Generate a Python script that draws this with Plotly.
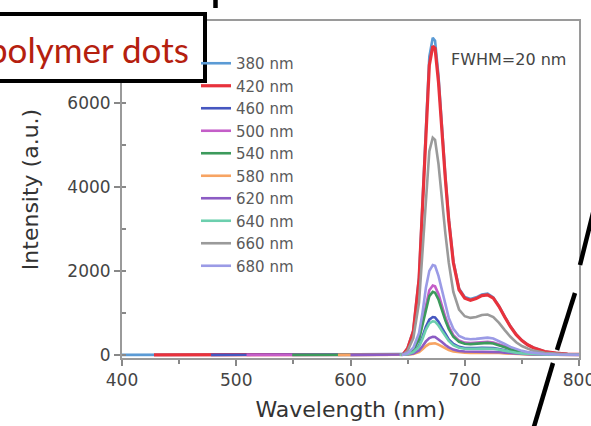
import plotly.graph_objects as go

# ---------------- data ----------------
series_names = ["380 nm", "420 nm", "460 nm", "500 nm", "540 nm",
                "580 nm", "620 nm", "640 nm", "660 nm", "680 nm"]
series_colors = ["#5b9bd5", "#e8323c", "#4657c0", "#c45ec8", "#3c9a5c",
                 "#f7a463", "#8c5cc4", "#6ccfae", "#9a9a9a", "#9b9be6"]
# wavelength where each recorded spectrum begins (flat zero until emission)
series_start = [400, 428, 478, 509, 549, 589, 600, 643, 644, 645]

wl = [646, 650, 655, 660, 663, 666, 669, 672, 674, 677, 680, 683, 686, 690,
      695, 700, 705, 710, 715, 720, 725, 730, 735, 740, 745, 750, 755, 760,
      770, 780, 790, 800]

i380 = [10, 160, 580, 1850, 3600, 5650, 7100, 7550, 7480, 6650, 5400, 4250, 3250, 2230,
        1580, 1380, 1330, 1370, 1440, 1460, 1370, 1160, 910, 680, 490, 345, 245, 175,
        82, 40, 20, 10]
i420 = [10, 150, 560, 1800, 3500, 5500, 6900, 7350, 7300, 6500, 5300, 4200, 3200, 2200,
        1550, 1350, 1300, 1340, 1410, 1430, 1350, 1150, 900, 670, 480, 340, 240, 170,
        80, 40, 20, 10]
i460 = [1, 17, 72, 220, 430, 670, 840, 900, 890, 790, 640, 490, 370, 260,
        190, 160, 155, 160, 170, 172, 162, 138, 108, 80, 56, 39, 27, 19,
        9, 4, 2, 1]
i500 = [2, 30, 130, 400, 780, 1230, 1540, 1650, 1630, 1450, 1170, 900, 680, 470,
        340, 290, 280, 290, 305, 310, 295, 250, 195, 145, 100, 70, 50, 35,
        17, 8, 4, 2]
i540 = [2, 28, 120, 370, 710, 1120, 1400, 1500, 1480, 1320, 1060, 820, 620, 430,
        310, 265, 255, 265, 280, 285, 270, 230, 180, 130, 92, 64, 45, 32,
        15, 7, 3, 1]
i580 = [0, 5, 22, 68, 133, 210, 262, 280, 277, 245, 198, 153, 116, 81,
        59, 50, 48, 50, 53, 54, 51, 43, 34, 25, 17, 12, 8, 6,
        3, 1, 1, 0]
i620 = [1, 8, 34, 105, 205, 320, 400, 430, 425, 375, 305, 235, 178, 125,
        90, 78, 75, 78, 82, 83, 78, 66, 52, 38, 27, 19, 13, 9,
        4, 2, 1, 0]
i640 = [1, 15, 64, 195, 380, 600, 750, 800, 790, 700, 570, 440, 330, 230,
        170, 145, 140, 145, 152, 155, 146, 124, 97, 71, 50, 35, 24, 17,
        8, 4, 2, 1]
i660 = [5, 100, 400, 1250, 2450, 3850, 4850, 5170, 5120, 4550, 3700, 2900, 2200, 1500,
        1080, 920, 880, 900, 950, 960, 900, 760, 590, 430, 300, 210, 150, 100,
        50, 25, 12, 5]
i680 = [3, 40, 170, 520, 1000, 1600, 2000, 2140, 2120, 1880, 1520, 1180, 880, 620,
        450, 390, 370, 380, 400, 410, 390, 330, 260, 190, 135, 95, 65, 45,
        22, 10, 5, 2]
series_values = [i380, i420, i460, i500, i540, i580, i620, i640, i660, i680]

x_ticks = [400, 500, 600, 700, 800]
y_ticks = [0, 2000, 4000, 6000]

# ---------------- layout geometry (pixels) ----------------
W, H = 591, 426
L, R, T, B = 122, 579, 21, 358


def px(x):
    return (x - L) / (R - L)


def py(y):
    return (B - y) / (B - T)


FONT = "DejaVu Sans"

fig = go.Figure()
for name, col, st, vals in zip(series_names, series_colors, series_start, series_values):
    fig.add_trace(go.Scatter(
        x=[st] + wl, y=[0] + vals, mode="lines", name=name,
        line=dict(color=col, width=2.6 if name != "420 nm" else 3.2),
    ))

fig.update_layout(
    width=W, height=H,
    margin=dict(l=L, r=W - R, t=T, b=H - B, autoexpand=False),
    paper_bgcolor="white", plot_bgcolor="white",
    showlegend=True,
    legend=dict(x=px(196), y=py(47), xanchor="left", yanchor="top",
                bgcolor="rgba(0,0,0,0)", borderwidth=0,
                font=dict(family=FONT, size=15, color="#5a5a5a"),
                tracegroupgap=0),
    xaxis=dict(range=[400, 800], tickvals=x_ticks, ticks="outside", ticklen=6,
               tickwidth=1.5, tickcolor="#888", showline=True, linecolor="#9a9a9a",
               linewidth=2, mirror=True, showgrid=False, zeroline=False,
               automargin=False, ticklabeloverflow="allow",
               minor=dict(dtick=50, ticks="outside", ticklen=4, tickcolor="#888", showgrid=False),
               tickfont=dict(family=FONT, size=17, color="#444"),
               title=dict(text="Wavelength (nm)", standoff=12,
                          font=dict(family=FONT, size=22, color="#333"))),
    yaxis=dict(range=[-75, 7950], tickvals=y_ticks, ticks="outside", ticklen=6,
               tickwidth=1.5, tickcolor="#888", showline=True, linecolor="#9a9a9a",
               linewidth=2, mirror=True, showgrid=False, zeroline=False,
               automargin=False,
               minor=dict(dtick=1000, ticks="inside", ticklen=4, tickcolor="#888", showgrid=False),
               tickfont=dict(family=FONT, size=17, color="#444"),
               title=dict(text="Intensity (a.u.)", standoff=23,
                          font=dict(family=FONT, size=22, color="#333"))),
)

# annotations: label box and callout lines
fig.add_shape(type="rect", xref="paper", yref="paper",
              x0=px(-20), x1=px(205), y0=py(81), y1=py(14),
              line=dict(color="black", width=4), fillcolor="white", layer="above")
fig.add_annotation(xref="paper", yref="paper", x=px(-14), y=py(49),
                   xanchor="left", yanchor="middle", showarrow=False,
                   text="polymer dots",
                   font=dict(family="Lato", size=35, color="#b5200e"))
fig.add_annotation(xref="paper", yref="paper", x=px(449), y=py(59),
                   xanchor="left", yanchor="middle", showarrow=False,
                   text="FWHM=20 nm",
                   font=dict(family=FONT, size=16, color="#444"))

for (x0, y0, x1, y1) in [(215.5, -5, 215.5, 8),
                         (595, 205, 580, 265), (575, 293, 557, 350), (553, 363, 530, 440)]:
    fig.add_shape(type="line", xref="paper", yref="paper",
                  x0=px(x0), y0=py(y0), x1=px(x1), y1=py(y1),
                  line=dict(color="black", width=4.5), layer="above")

fig.write_html("out.html", config={"displayModeBar": False},
               post_script="document.body.style.margin='0';document.body.style.overflow='hidden';")
